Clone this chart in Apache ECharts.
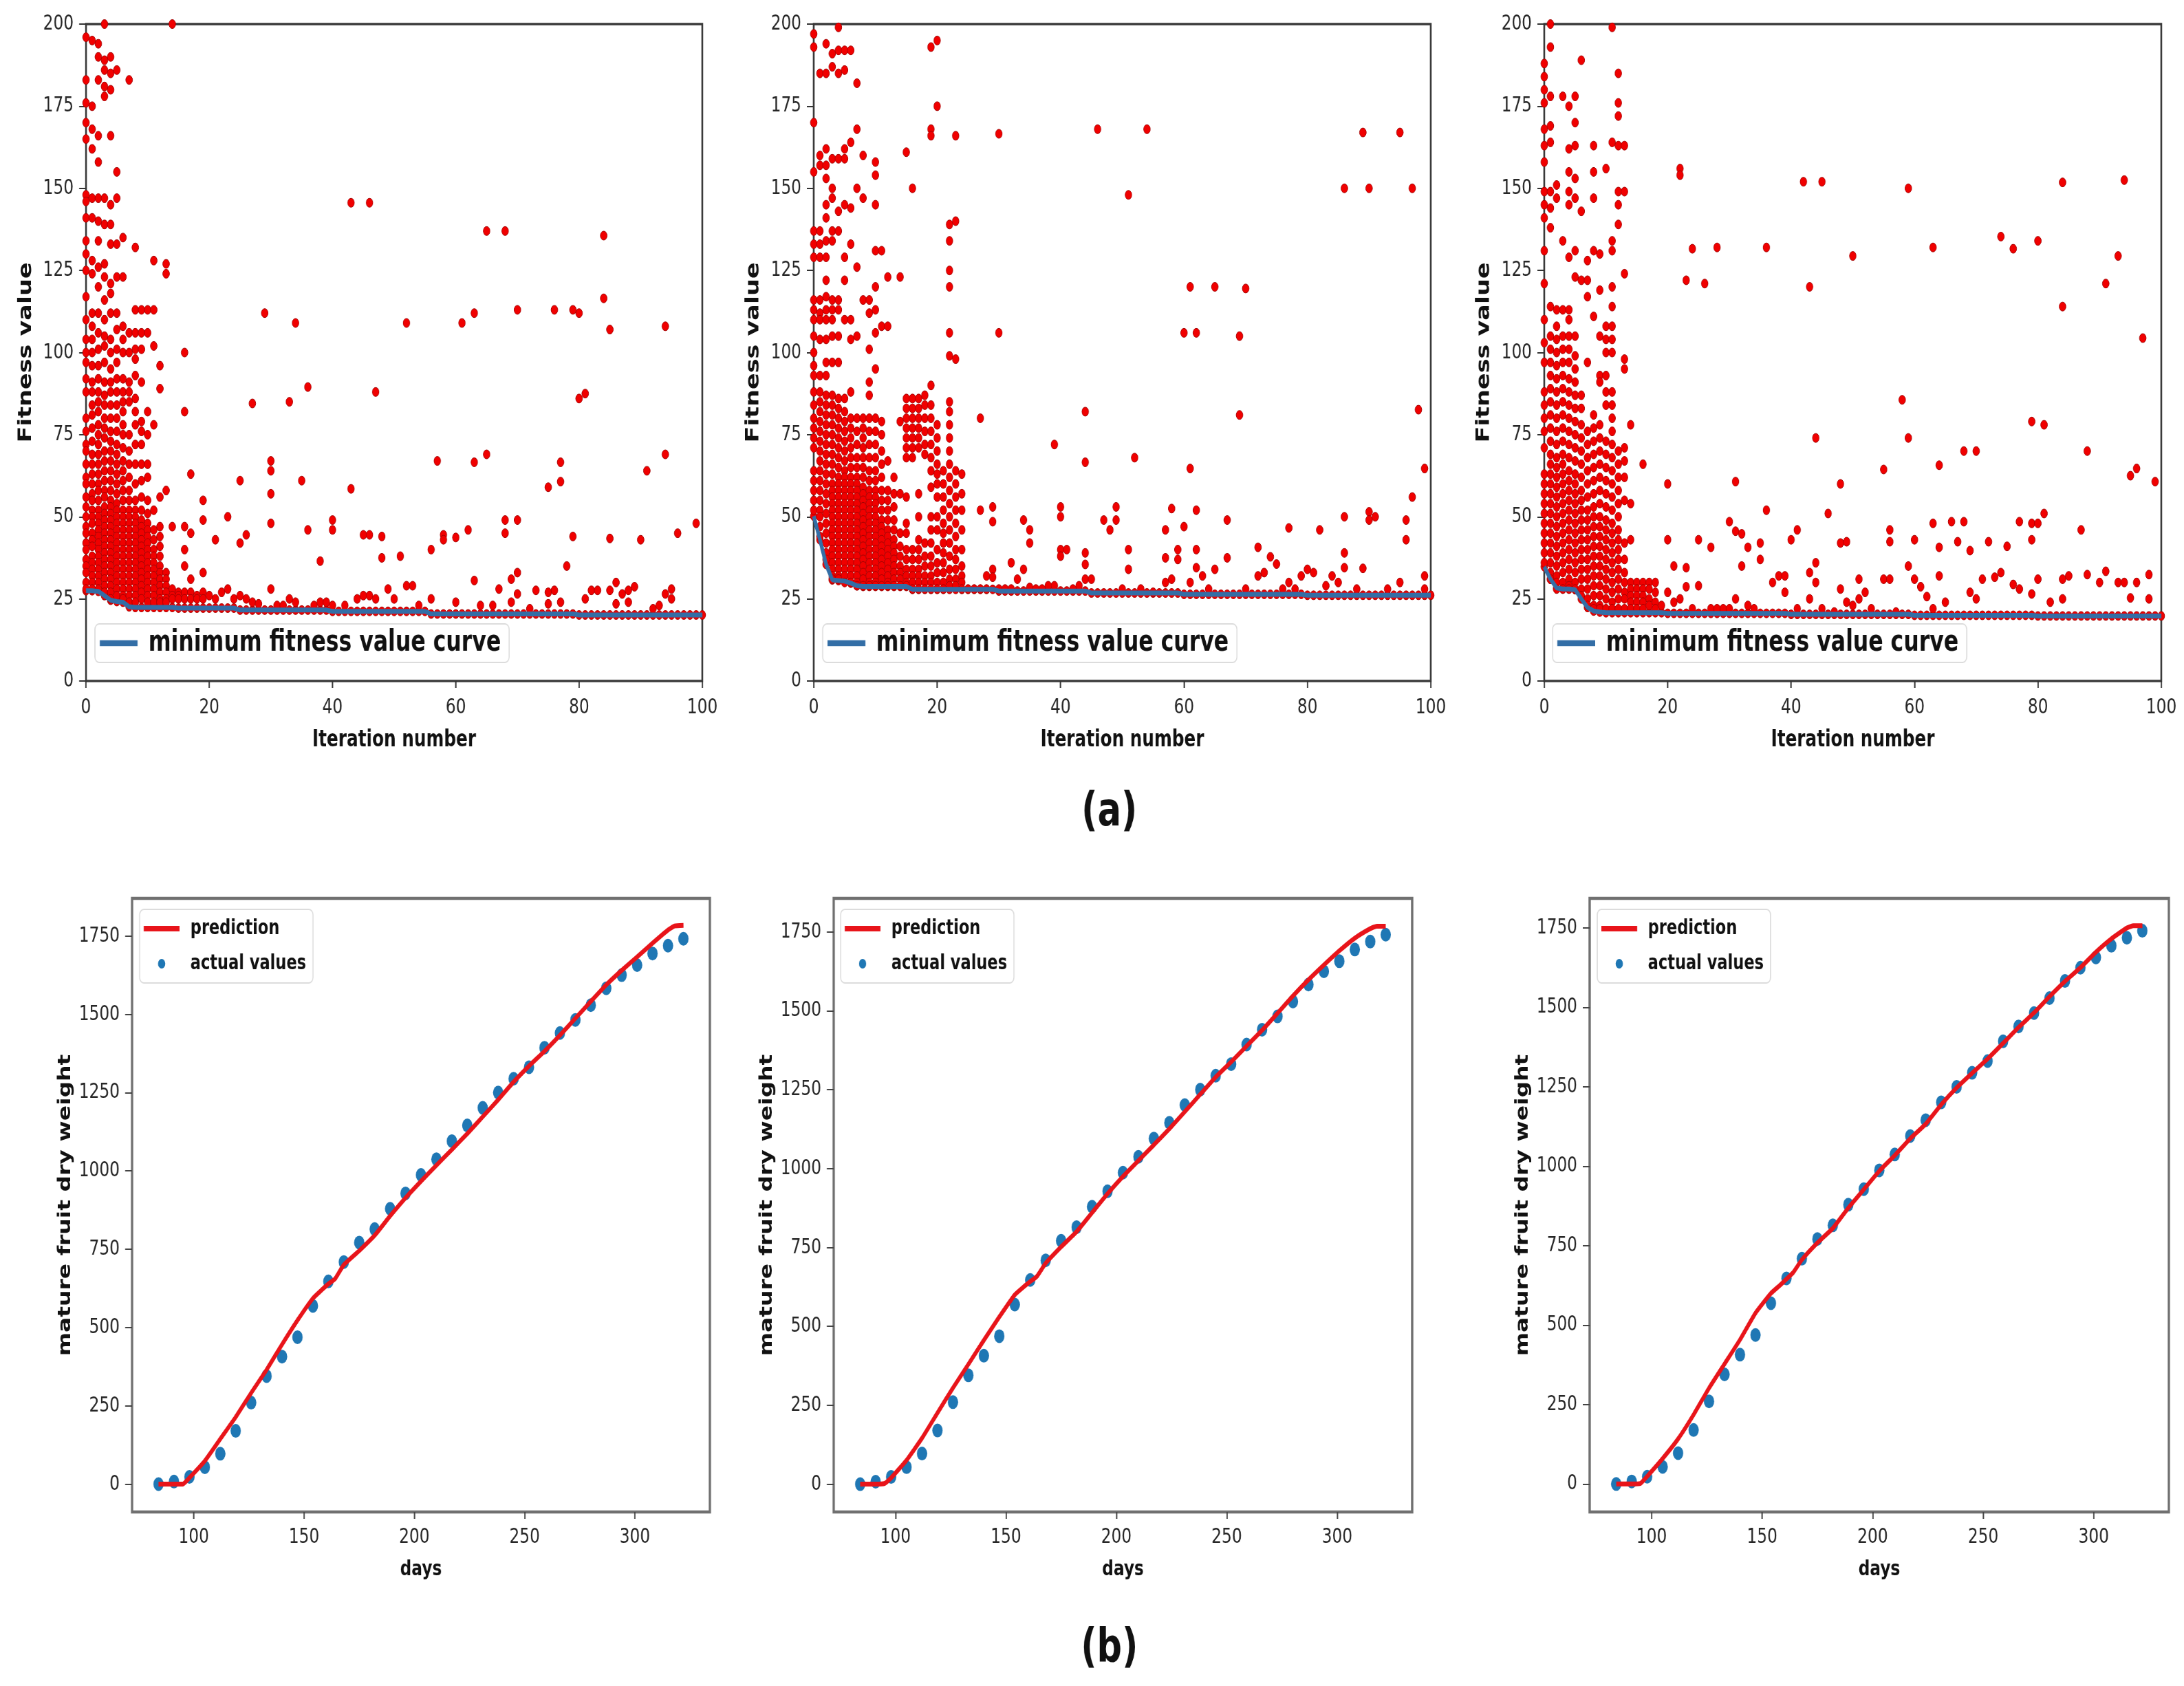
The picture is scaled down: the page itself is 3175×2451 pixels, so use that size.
<!DOCTYPE html>
<html>
<head>
<meta charset="utf-8">
<script src="https://cdn.jsdelivr.net/npm/echarts@6/dist/echarts.min.js"></script>
<style>
html, body { margin: 0; padding: 0; background: #fff; width: 3175px; height: 2451px; overflow: hidden; }
/* the source figure is squeezed horizontally; draw wide, then squeeze */
#chart { width: 4233px; height: 2451px; transform: scaleX(0.75); transform-origin: 0 0; }
</style>
</head>
<body>
<div id="chart"></div>
<script>
// ---- tick labels ----
var iterTicks = [0, 20, 40, 60, 80, 100];
var fitTicks = [0, 25, 50, 75, 100, 125, 150, 175, 200];
var dayTicks = [100, 150, 200, 250, 300];
var weightTicks = [0, 250, 500, 750, 1000, 1250, 1500, 1750];

// ---- (a) minimum fitness value per iteration (0..100) ----
var minCurve1 = [27.5,27.5,27.3,26.0,24.6,24.2,24.0,22.6,22.4,22.4,
  22.4,22.4,22.4,22.4,22.4,22.2,22.2,22.2,22.2,22.2,
  22.2,22.2,22.2,22.2,22.2,21.6,21.6,21.6,21.6,21.6,
  21.6,21.6,21.6,21.6,21.6,21.6,21.6,21.6,21.6,21.6,
  21.2,21.2,21.2,21.2,21.2,21.2,21.2,21.2,21.2,21.2,
  21.2,21.2,21.2,21.2,21.2,21.2,20.4,20.4,20.4,20.4,
  20.4,20.4,20.4,20.4,20.4,20.4,20.4,20.4,20.4,20.4,
  20.4,20.4,20.4,20.4,20.4,20.4,20.4,20.4,20.4,20.4,
  20.1,20.1,20.1,20.1,20.1,20.1,20.1,20.1,20.1,20.1,
  20.1,20.1,20.1,20.1,20.1,20.1,20.1,20.1,20.1,20.1,20.1];
var minCurve2 = [50.2,43.0,35.5,30.8,30.6,30.4,29.8,29.0,28.8,28.8,
  28.8,28.8,28.8,28.8,28.8,28.8,27.9,27.9,27.9,27.9,
  27.9,27.9,27.9,27.9,27.9,27.9,27.9,27.9,27.9,27.9,
  27.4,27.4,27.4,27.4,27.4,27.4,27.4,27.4,27.4,27.4,
  27.4,27.4,27.4,27.4,27.4,26.8,26.8,26.8,26.8,26.8,
  26.8,26.8,26.8,26.8,26.8,26.8,26.8,26.8,26.8,26.8,
  26.4,26.4,26.4,26.4,26.4,26.4,26.4,26.4,26.4,26.4,
  26.4,26.4,26.4,26.4,26.4,26.4,26.4,26.4,26.4,26.4,
  26.1,26.1,26.1,26.1,26.1,26.1,26.1,26.1,26.1,26.1,
  26.1,26.1,26.1,26.1,26.1,26.1,26.1,26.1,26.1,26.1,26.1];
var minCurve3 = [34.8,31.0,28.3,28.0,28.0,27.8,25.0,22.4,21.3,21.0,
  20.8,20.8,20.8,20.8,20.8,20.8,20.8,20.8,20.8,20.8,
  20.6,20.6,20.6,20.6,20.6,20.6,20.6,20.6,20.6,20.6,
  20.6,20.6,20.6,20.6,20.6,20.6,20.6,20.6,20.6,20.6,
  20.3,20.3,20.3,20.3,20.3,20.3,20.3,20.3,20.3,20.3,
  20.3,20.3,20.3,20.3,20.3,20.3,20.3,20.3,20.3,20.3,
  20.0,20.0,20.0,20.0,20.0,20.0,20.0,20.0,20.0,20.0,
  20.0,20.0,20.0,20.0,20.0,20.0,20.0,20.0,20.0,20.0,
  19.8,19.8,19.8,19.8,19.8,19.8,19.8,19.8,19.8,19.8,
  19.8,19.8,19.8,19.8,19.8,19.8,19.8,19.8,19.8,19.8,19.8];

// ---- (a) population fitness, early iterations: one list per iteration ----
var popEarly1 = [
  [196,183,176,170,165,148,146,141,134,130,125,117,110,104,100,97,92,88,80,76,72,70,66,62,60,56,53,50,47,45,42,40,37,35,33,30,28],
  [195,175,168,162,147,141,128,124,112,108,104,100,96,91,88,84,81,77,73,69,66,63,60,57,55,52,50,48,45,43,41,38,36,34,32,30,28],
  [194,190,183,166,158,147,140,134,126,120,112,106,101,96,92,88,85,82,78,75,72,69,66,63,60,58,55,52,50,48,46,44,42,40,38,36,34,32,30,28],
  [200,189,186,181,178,147,139,127,123,116,110,105,102,97,91,87,84,80,77,74,70,67,64,61,58,56,53,51,49,47,45,43,41,39,37,35,33,31,29,27],
  [190,185,180,166,145,139,133,121,118,112,104,100,95,91,88,84,80,76,73,70,67,64,61,58,55,53,51,49,47,45,43,41,39,37,35,33,31,29,27,25],
  [186,155,147,133,123,112,107,101,97,92,88,84,80,76,72,69,66,63,60,57,54,52,50,48,46,44,42,40,38,36,34,32,30,28,26],
  [135,123,108,104,100,92,88,85,82,78,75,71,67,64,61,58,55,52,50,48,46,44,42,40,38,36,34,32,30,28,26,25],
  [183,106,100,91,88,85,75,70,66,62,58,55,52,50,48,46,44,42,40,38,36,34,32,30,28,26,24],
  [132,113,106,101,98,93,86,82,78,72,66,60,55,52,50,48,46,44,42,40,38,36,34,32,30,28,26,24],
  [113,106,101,91,79,76,72,66,61,56,52,49,47,45,43,41,39,37,35,33,31,29,27,25],
  [113,106,82,75,66,62,55,51,48,46,44,42,40,38,36,34,32,30,28,26,24],
  [128,113,102,78,52,46,43,40,38,36,34,32,30,28,26,24],
  [96,89,56,47,44,41,38,35,33,31,29,27,25,24],
  [127,124,58,33,31,29,27,25,24],
  [200,47,28,26,25],
  [27,26,25],
  [100,82,47,40,35,27,25],
  [63,45,31,27,25],
  [26,25],
  [55,49,33,27,25]
];
var popEarly2 = [
  [197,193,170,155,137,133,129,116,113,110,105,100,96,93,88,84,80,77,74,71,64,61,58,55,52],
  [185,160,157,137,133,129,116,112,110,104,93,88,85,82,79,76,73,70,67,64,61,58,55,52,50,47,44],
  [194,185,162,157,153,145,141,134,129,122,117,113,110,104,97,93,87,84,81,78,75,72,69,66,63,60,57,54,51,48,45,42,39,37],
  [191,187,159,150,147,137,134,116,113,110,105,97,87,84,81,78,75,72,69,66,63,60,58,56,54,52,50,48,46,44,42,40,38,36,34,32,31],
  [199,192,185,159,143,137,116,113,105,97,86,83,80,77,74,71,68,65,62,60,58,56,54,52,50,48,46,44,42,40,38,36,34,32,31],
  [192,186,162,159,145,129,122,110,86,82,79,76,73,70,67,64,62,60,58,56,54,52,50,48,46,44,42,40,38,36,34,32,30],
  [192,164,144,133,110,104,88,80,77,74,71,68,65,62,60,58,56,54,52,50,48,46,44,42,40,38,36,34,32,30],
  [182,168,150,126,105,80,76,72,68,65,62,60,58,56,54,52,50,48,46,44,42,40,38,36,34,32,30,29],
  [160,147,116,80,77,74,71,68,65,62,59,57,55,53,51,49,47,45,43,41,39,37,35,33,31,29],
  [116,112,101,91,87,80,76,72,68,64,61,58,56,54,52,50,48,46,44,42,40,38,36,34,32,30,29],
  [158,154,145,131,120,113,106,95,80,76,72,68,64,61,58,56,54,52,50,48,46,44,42,40,38,36,34,32,30,29],
  [131,108,79,75,70,66,62,58,55,52,49,47,45,43,41,39,37,35,33,31,29],
  [123,108,67,58,55,52,49,46,44,42,40,38,36,34,32,30,29],
  [62,57,53,49,46,43,41,39,37,35,33,31,29],
  [123,79,57,45,41,38,35,33,31,29],
  [161,86,83,80,77,74,71,68,56,48,45,40,37,34,32,30,29],
  [150,86,83,80,77,74,71,68,40,37,34,32,30,28],
  [86,83,80,77,74,71,57,50,43,40,37,34,32,30,28],
  [87,84,80,76,72,69,42,38,35,32,30,28],
  [193,168,166,90,84,80,76,72,68,64,59,50,46,42,38,35,32,30,28],
  [195,175,78,74,70,66,63,60,56,50,46,40,36,33,30,28],
  [64,60,56,52,48,45,42,39,36,33,30,28],
  [139,134,125,120,106,99,85,82,78,74,70,66,62,58,54,50,46,42,38,34,31,29],
  [166,140,98,64,60,56,52,48,44,40,37,34,31,29],
  [63,57,52,46,40,35,32,30,28]
];
var popEarly3 = [
  [188,184,180,176,168,163,158,149,145,141,131,121,110,103,97,88,84,80,76,71,63,60,57,54,51,48,45,42,39,36],
  [200,193,178,169,164,149,144,138,114,105,101,97,93,89,85,81,77,73,69,66,63,60,57,54,51,48,45,42,39,36,33,31],
  [151,147,113,108,104,100,96,92,88,84,80,76,72,68,65,62,59,56,53,50,47,44,41,38,35,32,30,28],
  [178,134,113,105,101,97,93,89,85,81,77,73,69,66,63,60,57,54,51,48,45,42,39,36,33,30,28],
  [175,162,155,149,145,129,113,110,105,101,97,92,88,84,80,76,72,68,64,61,58,55,52,49,46,43,40,37,34,31,29,28],
  [178,170,163,153,147,131,123,105,99,95,91,87,83,79,75,71,67,63,60,57,54,51,48,45,42,39,36,33,30,28],
  [189,143,122,87,83,78,74,70,66,62,58,55,52,49,46,43,40,37,34,31,28,26],
  [128,122,117,97,76,72,68,64,60,56,52,49,46,43,40,37,34,31,28,25,23],
  [163,155,147,131,111,81,77,73,69,65,61,57,53,50,47,44,41,38,35,32,29,26,23,22],
  [130,119,105,93,91,78,74,70,66,62,58,54,50,47,44,41,38,35,32,29,26,23,22],
  [156,108,104,100,93,88,84,73,69,65,61,57,53,49,46,43,40,37,34,31,28,25,22],
  [199,164,134,131,120,114,108,104,100,88,84,80,76,72,68,64,60,56,52,48,45,42,39,36,33,30,27,24,22],
  [185,176,172,163,149,145,139,70,66,62,58,54,50,46,43,40,37,34,31,28,25,22],
  [163,149,124,98,95,71,67,62,55,42,37,33,30,27,25,22],
  [78,54,43,30,28,26,24,22],
  [30,28,26,24,22],
  [66,30,28,26,24,22],
  [30,28,25,23],
  [30,27,24,22]
];

// ---- (a) population fitness, later iterations: [iteration, fitness] ----
var popLate1 = [[20,26],[21,43],[21,25],[22,27],[23,50],[23,28],[24,25],[25,61],[25,42],[25,26],[26,44.5],[26,25],
  [27,84.5],[27,24],[28,23.5],[29,112],[30,67],[30,64],[30,57],[30,48],[30,28],[31,23],[32,23],[33,85],[33,25],
  [34,109],[34,24],[35,61],[36,89.5],[36,46],[37,23],[38,36.5],[38,24],[39,24],[40,49],[40,46],[40,23],[42,23],
  [43,145.6],[43,58.5],[44,25],[45,44.5],[45,26],[46,145.6],[46,44.5],[46,26],[47,88],[47,25],[48,44],[48,37.5],
  [49,28],[50,25],[51,38],[52,109],[52,29],[53,29],[54,23],[56,40],[56,25],[57,67],[58,44.5],[58,43],[60,43.7],
  [60,24],[61,109],[62,46],[63,112],[63,66.6],[63,30.6],[64,23],[65,137],[65,69],[66,23],[67,28],[68,137],[68,49],
  [68,45],[69,31],[69,24],[70,113],[70,49],[70,33],[70,26.5],[72,22],[73,27.6],[75,59],[75,27],[75,23.5],[76,113],
  [76,27.6],[77,66.6],[77,60.7],[77,24],[78,35],[79,113],[79,44],[80,112],[80,86],[81,87.5],[81,25],[82,27.6],
  [83,27.6],[84,135.6],[84,116.5],[85,107],[85,43.4],[85,27.6],[86,30],[86,23.5],[87,26.5],[88,27.6],[88,24],
  [89,28.7],[90,43],[91,64],[92,22],[93,23],[94,108],[94,69],[94,26.5],[95,28],[95,25],[96,45],[99,48]];
var popLate2 = [[25,28],[26,28],[27,80],[27,52],[27,28],[28,32],[28,28],[29,53],[29,48.5],[29,34],[29,31.6],
  [30,166.6],[30,106],[30,28],[31,28],[32,36],[32,28],[33,31],[34,49],[34,34],[35,46],[35,42],[35,28.5],[36,28],
  [37,28],[38,29],[39,72],[39,29],[40,53],[40,50],[40,40],[40,38],[41,40],[42,28],[43,29],[44,82],[44,66.6],
  [44,39],[44,35.5],[44,31],[45,31],[46,168],[47,49],[48,46],[49,53],[49,49],[50,28],[51,148],[51,40],[51,34],
  [52,68],[53,28],[54,168],[55,27],[57,46],[57,37.5],[57,30],[58,52.5],[58,31],[59,40],[59,37],[60,106],[60,47],
  [61,120],[61,64.7],[61,30],[62,106],[62,52],[62,40],[62,34.5],[63,32],[64,28],[65,120],[65,34],[67,49],
  [67,37.5],[69,105],[69,81],[70,119.5],[70,28],[72,40.7],[72,32],[73,33],[74,37.8],[75,35.6],[76,28],[77,46.6],
  [77,30],[78,28],[79,32],[80,34],[81,33],[82,46],[83,29],[84,32],[85,30],[86,150],[86,50],[86,39],[86,34.5],
  [88,28],[89,167],[89,34.3],[90,150],[90,51.5],[90,49],[91,50],[93,28],[95,167],[95,30],[96,49],[96,43],
  [97,150],[97,56],[98,82.6],[99,64.7],[99,32],[99,28]];
var popLate3 = [[19,23],[20,60],[20,43],[20,27],[21,35],[21,24],[22,156],[22,154],[22,25],[23,122],[23,34.5],
  [23,28.7],[24,131.6],[24,22],[25,43],[25,29],[26,121],[27,40.7],[27,22],[28,132],[28,22],[29,22],[30,48.5],
  [30,22],[31,60.7],[31,45.6],[31,25],[32,44.8],[32,35],[33,40.7],[33,23],[34,22],[35,42],[35,37],[36,132],
  [36,52],[37,30],[38,32],[39,32],[39,27],[40,43],[41,46],[41,22],[42,152],[43,120],[43,33],[43,25],[44,74],
  [44,36],[44,30],[45,152],[45,22],[46,51],[47,21],[48,60],[48,42],[48,28],[49,42.4],[49,24],[50,129.4],[50,23],
  [51,31],[51,25],[52,27],[53,22],[55,64.4],[55,31],[56,46],[56,42.4],[56,31],[57,21],[58,85.6],[59,150],[59,74],
  [59,35],[60,43],[60,31],[61,28.7],[62,25.7],[63,132],[63,48],[63,22],[64,65.7],[64,40.7],[64,32],[65,24],
  [66,48.5],[67,42.4],[68,70],[68,48.5],[69,39.7],[69,27],[70,70],[70,25],[71,31],[72,42.4],[73,31.6],
  [74,135.3],[74,33],[75,41],[76,131.6],[76,29.4],[77,48.5],[77,28],[79,79],[79,48],[79,43],[79,26.5],[80,134],
  [80,48],[80,31],[81,78],[81,51],[82,24],[84,151.8],[84,114],[84,31],[84,25],[85,32],[87,46],[88,70],[88,32.4],
  [90,30],[91,121],[91,33.4],[93,129.4],[93,30],[94,152.5],[94,30],[95,62.5],[95,25.3],[96,64.7],[96,30],
  [97,104.4],[98,32.4],[98,25],[99,60.7]];

// ---- (b) mature fruit dry weight ----
var days = [84,91,98,105,112,119,126,133,140,147,154,161,168,175,182,189,196,203,210,217,224,231,238,245,252,259,266,273,280,287,294,301,308,315,322];
var actual = [0,8,23,54,97,170,260,345,407,469,569,647,709,771,814,879,928,987,1037,1095,1145,1201,1250,1294,1331,1393,1440,1482,1529,1583,1625,1657,1694,1719,1741];
var predDays = [84,91,95,98,105,112,119,126,133,140,147,154,158,161,164,168,175,182,189,196,203,210,217,224,231,238,245,252,259,266,273,280,287,294,301,308,315,318,322];
var pred1 = [0,0,0,20,74,144,214,291,365,446,523,593,620,639,655,700,745,794,856,914,967,1018,1068,1119,1173,1227,1284,1335,1382,1433,1487,1541,1594,1640,1683,1727,1769,1782,1784];
var pred2 = [0,0,2,20,76,146,226,305,380,456,530,600,625,642,658,700,752,800,860,920,975,1025,1075,1126,1180,1235,1290,1338,1388,1438,1492,1547,1598,1645,1690,1730,1760,1768,1768];
var pred3 = [0,0,2,24,80,142,218,302,378,454,538,600,625,645,665,706,759,805,869,927,985,1034,1087,1133,1194,1247,1293,1338,1387,1437,1483,1534,1582,1625,1674,1716,1750,1757,1757];

var SX = 0.75;   // horizontal squeeze applied to the whole chart (see CSS)
var FONT = "'DejaVu Sans', sans-serif";
var LINE_ICON = 'path://M0,0L70,0L70,8L0,8Z';

function sx(x) {
    return x / SX;
}

function popPoints(early, late, minCurve) {
    var pts = [];
    for (var i = 0; i < minCurve.length; i++) {
        pts.push([i, minCurve[i]]);
    }
    for (var i = 0; i < early.length; i++) {
        for (var j = 0; j < early[i].length; j++) {
            pts.push([i, early[i][j]]);
        }
    }
    for (var k = 0; k < late.length; k++) {
        pts.push(late[k]);
    }
    return pts;
}

function pairs(xs, ys) {
    var out = [];
    for (var i = 0; i < xs.length; i++) {
        out.push([xs[i], ys[i]]);
    }
    return out;
}

function curvePoints(minCurve) {
    var out = [];
    for (var i = 0; i < minCurve.length; i++) {
        out.push([i, minCurve[i]]);
    }
    return out;
}

function plainNumber(value) {
    return String(value);
}

// grid boxes in screen pixels [left, top, width, height]
var boxes = [
    [125, 35, 896, 955], [1183, 35, 897, 955], [2245, 35, 897, 955],
    [192, 1306, 840, 892], [1212, 1306, 841, 892], [2311, 1306, 842, 892]
];
var grids = [];
for (var g = 0; g < boxes.length; g++) {
    grids.push({
        left: sx(boxes[g][0]), top: boxes[g][1], width: sx(boxes[g][2]), height: boxes[g][3],
        show: true, backgroundColor: '#fff',
        borderColor: g < 3 ? '#3a3a3a' : '#707070', borderWidth: g < 3 ? 3.5 : 4.5,
        containLabel: false, outerBoundsMode: 'none'
    });
}

var tickLabel = {fontFamily: FONT, fontSize: 31, color: '#262626', formatter: plainNumber};
var xAxes = [], yAxes = [];
var yBounds = [[-89, 1870], [-88, 1856], [-88, 1843]];

for (var p = 0; p < 3; p++) {
    xAxes.push({
        gridIndex: p, type: 'value', min: 0, max: 100,
        name: 'Iteration number', nameLocation: 'middle', nameGap: 70,
        nameTextStyle: {fontFamily: FONT, fontWeight: 'bold', fontSize: 33, color: '#111'},
        axisLine: {show: false, onZero: false},
        axisTick: {show: true, length: 10, customValues: iterTicks, lineStyle: {color: '#333', width: 2.5}},
        axisLabel: Object.assign({margin: 23, customValues: iterTicks}, tickLabel),
        splitLine: {show: false}
    });
    yAxes.push({
        gridIndex: p, type: 'value', min: 0, max: 200,
        name: 'Fitness value', nameLocation: 'middle', nameGap: sx(74), nameRotate: 90,
        nameTextStyle: {fontFamily: FONT, fontWeight: 'bold', fontSize: 35, color: '#111'},
        axisLine: {show: false, onZero: false},
        axisTick: {show: true, length: sx(10), customValues: fitTicks, lineStyle: {color: '#333', width: 2}},
        axisLabel: Object.assign({margin: sx(18), customValues: fitTicks}, tickLabel),
        splitLine: {show: false}
    });
}
for (var p = 0; p < 3; p++) {
    xAxes.push({
        gridIndex: 3 + p, type: 'value', min: 72, max: 334,
        name: 'days', nameLocation: 'middle', nameGap: 68,
        nameTextStyle: {fontFamily: FONT, fontWeight: 'bold', fontSize: 31, color: '#111'},
        axisLine: {show: false, onZero: false},
        axisTick: {show: true, length: 10, customValues: dayTicks, lineStyle: {color: '#444', width: 2.5}},
        axisLabel: Object.assign({margin: 21, customValues: dayTicks}, tickLabel),
        splitLine: {show: false}
    });
    yAxes.push({
        gridIndex: 3 + p, type: 'value', min: yBounds[p][0], max: yBounds[p][1],
        name: 'mature fruit dry weight', nameLocation: 'middle', nameGap: sx(84), nameRotate: 90,
        nameTextStyle: {fontFamily: FONT, fontWeight: 'bold', fontSize: 33, color: '#111'},
        axisLine: {show: false, onZero: false},
        axisTick: {show: true, length: sx(10), customValues: weightTicks, lineStyle: {color: '#444', width: 2}},
        axisLabel: Object.assign({margin: sx(18), customValues: weightTicks}, tickLabel),
        splitLine: {show: false}
    });
}

var early = [popEarly1, popEarly2, popEarly3];
var late = [popLate1, popLate2, popLate3];
var mins = [minCurve1, minCurve2, minCurve3];
var preds = [pred1, pred2, pred3];
var series = [];
for (var p = 0; p < 3; p++) {
    series.push({
        name: 'population', type: 'scatter', xAxisIndex: p, yAxisIndex: p,
        data: popPoints(early[p], late[p], mins[p]),
        symbol: 'circle', symbolSize: 13, silent: true,
        itemStyle: {color: '#f00000', borderColor: '#a30000', borderWidth: 1, opacity: 1},
        z: 2
    });
    series.push({
        name: 'minimum fitness value curve', type: 'line', xAxisIndex: p, yAxisIndex: p,
        data: curvePoints(mins[p]), symbol: 'none', silent: true,
        lineStyle: {color: '#336ea6', width: 7},
        itemStyle: {color: '#336ea6'},
        z: 3
    });
}
for (var p = 0; p < 3; p++) {
    series.push({
        name: 'actual values', type: 'scatter', xAxisIndex: 3 + p, yAxisIndex: 3 + p,
        data: pairs(days, actual), symbol: 'circle', symbolSize: 20, silent: true,
        itemStyle: {color: '#1f77b4', opacity: 1},
        z: 2
    });
    series.push({
        name: 'prediction', type: 'line', xAxisIndex: 3 + p, yAxisIndex: 3 + p,
        data: pairs(predDays, preds[p]), symbol: 'none', smooth: 0.15, silent: true,
        lineStyle: {color: '#e8141a', width: 7},
        itemStyle: {color: '#e8141a'},
        z: 3
    });
}

var legendBox = {
    orient: 'vertical', backgroundColor: '#fff', borderColor: '#dcdcdc', borderWidth: 2, borderRadius: 8,
    selectedMode: false
};
var legends = [];
var topLegendLeft = [138, 1196, 2257];
for (var p = 0; p < 3; p++) {
    legends.push(Object.assign({}, legendBox, {
        left: sx(topLegendLeft[p]), top: 907, padding: [7, sx(12), 7, sx(7)],
        itemWidth: sx(55), itemHeight: 14, itemGap: 8,
        textStyle: {fontFamily: FONT, fontWeight: 'bold', fontSize: 42, color: '#111', padding: [0, 0, 0, sx(12)]},
        data: [{name: 'minimum fitness value curve', icon: LINE_ICON}]
    }));
}
var botLegendLeft = [203, 1222, 2322];
for (var p = 0; p < 3; p++) {
    legends.push(Object.assign({}, legendBox, {
        left: sx(botLegendLeft[p]), top: 1322, padding: [13, sx(10), 13, sx(6)],
        itemWidth: sx(52), itemHeight: 14, itemGap: 21,
        textStyle: {fontFamily: FONT, fontWeight: 'bold', fontSize: 30, color: '#111', padding: [0, 0, 0, sx(12)]},
        data: [{name: 'prediction', icon: LINE_ICON}, {name: 'actual values', icon: 'circle'}]
    }));
}

var myChart = echarts.init(document.getElementById('chart'), null, {renderer: 'canvas'});
myChart.setOption({
    animation: false,
    backgroundColor: '#fff',
    title: [
        {text: '(a)', left: sx(1609), top: 1143, textAlign: 'center',
         textStyle: {fontFamily: FONT, fontWeight: 'bold', fontSize: 68, color: '#111'}},
        {text: '(b)', left: sx(1609), top: 2359, textAlign: 'center',
         textStyle: {fontFamily: FONT, fontWeight: 'bold', fontSize: 68, color: '#111'}}
    ],
    legend: legends,
    grid: grids,
    xAxis: xAxes,
    yAxis: yAxes,
    series: series
});
</script>
</body>
</html>
